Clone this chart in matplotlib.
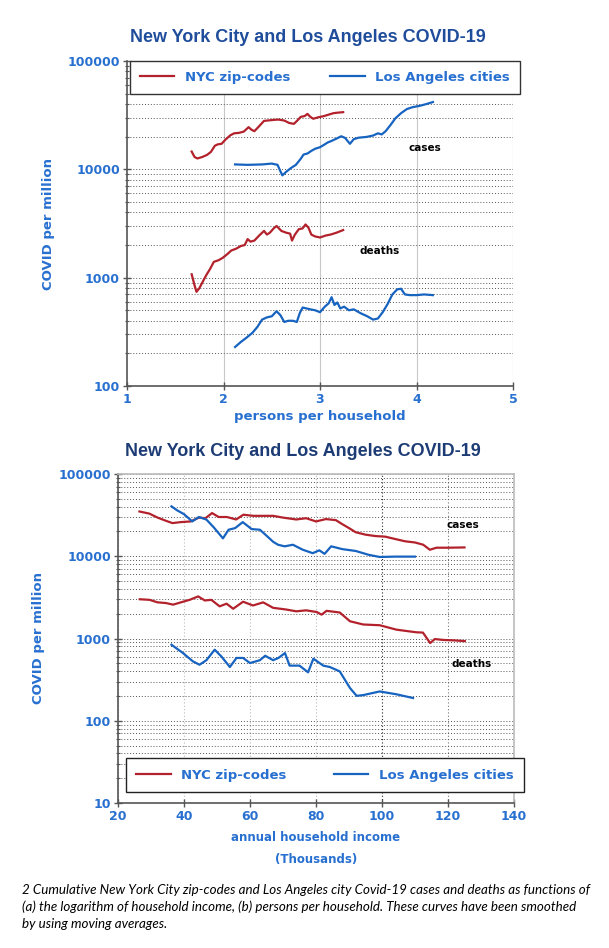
import numpy as np
import matplotlib
matplotlib.use("Agg")
import matplotlib.pyplot as plt
from matplotlib.ticker import LogLocator, NullFormatter


# (a) persons per household
pph_nyc_cases_x = [1.67, 1.70, 1.73, 1.78, 1.83, 1.87, 1.91, 1.94, 1.98, 2.02, 2.07, 2.11, 2.16, 2.21, 2.26, 2.29, 2.32, 2.36, 2.42,
                   2.47, 2.52, 2.57, 2.63, 2.68, 2.73, 2.77, 2.80, 2.84, 2.87, 2.90, 2.93, 2.98, 3.04, 3.09, 3.14, 3.19, 3.24]
pph_nyc_cases_y = [14600, 13000, 12600, 13000, 13600, 14500, 16500, 17000, 17200, 18800, 20600, 21500, 21700, 22300, 24500, 23200,
                   22500, 24500, 28000, 28300, 28600, 28800, 28200, 26800, 26300, 28500, 30500, 31000, 32500, 30500, 29300, 30200,
                   31000, 32000, 33000, 33400, 33700]

pph_la_cases_x = [2.12, 2.25, 2.40, 2.50, 2.56, 2.59, 2.61, 2.65, 2.70, 2.75, 2.80, 2.83, 2.87, 2.91, 2.95, 3.00, 3.04, 3.08, 3.12,
                  3.17, 3.22, 3.26, 3.31, 3.35, 3.40, 3.48, 3.55, 3.60, 3.64, 3.68, 3.73, 3.78, 3.84, 3.90, 3.96, 4.03, 4.10, 4.17]
pph_la_cases_y = [11100, 11000, 11100, 11300, 11000, 9600, 8800, 9500, 10300, 11000, 12500, 13700, 14000, 14800, 15500, 16000,
                  16800, 17700, 18300, 19200, 20200, 19500, 17200, 19000, 19600, 19900, 20500, 21500, 21000, 22500, 25600, 29500,
                  33000, 36000, 37500, 38500, 40000, 41800]

pph_nyc_deaths_x = [1.67, 1.70, 1.72, 1.75, 1.78, 1.82, 1.86, 1.90, 1.95, 1.99, 2.04, 2.08, 2.13, 2.18, 2.22, 2.25, 2.28, 2.32,
                    2.37, 2.42, 2.45, 2.48, 2.52, 2.55, 2.60, 2.65, 2.69, 2.71, 2.74, 2.78, 2.82, 2.85, 2.88, 2.91, 2.95, 3.00,
                    3.06, 3.11, 3.17, 3.24]
pph_nyc_deaths_y = [1075, 850, 740, 800, 900, 1050, 1200, 1400, 1450, 1520, 1650, 1780, 1850, 1960, 2000, 2270, 2150, 2200, 2450,
                    2700, 2500, 2600, 2850, 3000, 2700, 2600, 2550, 2200, 2500, 2800, 2850, 3100, 2900, 2500, 2400, 2350, 2450,
                    2500, 2600, 2750]

pph_la_deaths_x = [2.12, 2.18, 2.24, 2.30, 2.35, 2.40, 2.45, 2.50, 2.55, 2.59, 2.63, 2.67, 2.72, 2.76, 2.79, 2.82, 2.86, 2.90,
                   2.95, 3.00, 3.05, 3.09, 3.12, 3.15, 3.18, 3.21, 3.25, 3.30, 3.35, 3.42, 3.49, 3.55, 3.60, 3.65, 3.70, 3.75,
                   3.80, 3.84, 3.88, 3.93, 4.00, 4.08, 4.17]
pph_la_deaths_y = [229, 255, 280, 310, 350, 410, 430, 440, 490, 450, 390, 400, 400, 390, 470, 530, 520, 510, 500, 480, 540, 580,
                   660, 560, 590, 520, 540, 500, 510, 470, 440, 410, 420, 480, 570, 700, 780, 790, 700, 690, 690, 700, 690]

# (b) annual household income (thousands)
inc_nyc_cases_x = [26.5, 29.5, 32, 34.5, 36.5, 39, 42, 44.5, 46.5, 48.5, 50.5, 53, 55.8, 58, 61, 64, 67, 70, 74, 77, 80, 83, 86,
                   88, 90, 92, 95, 98, 101, 104, 107, 110, 112.5, 114.5, 116.5, 120, 125]
inc_nyc_cases_y = [35000, 33000, 29500, 27000, 25300, 26000, 26500, 29500, 29000, 33500, 30000, 30000, 28000, 32000, 31000, 31000,
                   31000, 29500, 28000, 29000, 26500, 28300, 27500, 24500, 22000, 19600, 18300, 17600, 17300, 16200, 15200, 14700,
                   13800, 12000, 12700, 12700, 12800]

inc_la_cases_x = [36.2, 38, 40, 42.5, 44.5, 46.8, 49, 51.8, 53.5, 55.5, 57.8, 60.5, 63, 65, 67, 68.5, 70.5, 73, 76, 79, 81, 82.6,
                  84.6, 88, 92, 96, 99.3, 104, 110]
inc_la_cases_y = [40400, 36000, 32500, 26500, 30000, 27900, 22500, 16500, 21000, 22000, 26000, 21400, 21000, 17800, 15000, 13800,
                  13200, 13800, 12000, 10900, 11800, 10700, 13200, 12200, 11600, 10400, 9800, 9900, 9900]

inc_nyc_deaths_x = [26.6, 29.6, 32, 34.5, 36.7, 39.7, 41.8, 44.3, 46.3, 48.3, 50.8, 52.9, 54.9, 57.9, 60.9, 64, 67, 71, 74, 77,
                    80.2, 81.7, 83.2, 87.2, 90.3, 94.3, 99.3, 104.4, 110.4, 112.4, 114.6, 116, 118.6, 121.7, 125.1]
inc_nyc_deaths_y = [3000, 2950, 2750, 2700, 2580, 2800, 2960, 3250, 2900, 2950, 2460, 2650, 2300, 2800, 2520, 2750, 2360, 2250,
                    2140, 2200, 2100, 1950, 2170, 2070, 1620, 1480, 1450, 1280, 1190, 1180, 880, 985, 960, 950, 930]

inc_la_deaths_x = [36.2, 39.7, 42.7, 44.7, 46.8, 49.3, 51.4, 53.9, 55.9, 57.9, 60, 63, 64.6, 67, 68.6, 70.6, 72, 75, 77.6, 79.2,
                   82.2, 84.2, 87.2, 90.3, 92.3, 94.3, 99.3, 104.3, 109.4]
inc_la_deaths_y = [840, 665, 527, 480, 545, 731, 600, 450, 580, 580, 503, 545, 617, 545, 580, 665, 468, 468, 388, 568, 468, 450,
                   398, 250, 201, 205, 227, 210, 189]

title = "New York City and Los Angeles COVID-19"
caption = ("2 Cumulative New York City zip-codes and Los Angeles city Covid-19 cases and deaths as functions of\n"
           "(a) the logarithm of household income, (b) persons per household. These curves have been smoothed\n"
           "by using moving averages.")

red = "#b3222c"
blue = "#1763c0"
tick_blue = "#2870d0"
font = "DejaVu Sans"
title_font = "Liberation Sans"

fig = plt.figure(figsize=(6.09, 9.48), dpi=100)
fig.patch.set_facecolor("white")


def style_axes(ax, ylo, yhi):
    ax.set_yscale("log")
    ax.set_ylim(ylo, yhi)
    ax.yaxis.set_major_locator(LogLocator(base=10, numticks=10))
    ax.yaxis.set_minor_locator(LogLocator(base=10, subs=np.arange(2, 10), numticks=10))
    ax.yaxis.set_minor_formatter(NullFormatter())
    ax.set_yticklabels([f"{int(v)}" for v in ax.get_yticks()])
    ax.grid(axis="y", which="both", color="#555555", linestyle=(0, (1, 2)), linewidth=0.7)
    ax.tick_params(axis="both", which="major", direction="inout", length=6, width=1, colors="#555555",
                   labelcolor=tick_blue, labelsize=9, pad=2)
    ax.tick_params(axis="y", which="minor", direction="inout", length=3, width=0.8, colors="#555555")
    for lab in ax.get_xticklabels() + ax.get_yticklabels():
        lab.set_fontfamily(font)
        lab.set_fontweight("bold")
    for s in ("left", "bottom"):
        ax.spines[s].set_color("#555555")
        ax.spines[s].set_linewidth(1.2)
    ax.set_axisbelow(True)


label_kw = dict(fontweight="bold", family=font, color=tick_blue)
note_kw = dict(fontsize=7.5, fontweight="bold", family=font, ha="center", va="center")
legend_prop = {"family": font, "weight": "bold", "size": 9.5}

# ---- top panel: persons per household
ax1 = fig.add_axes([127 / 609, 1 - 386 / 948, 386 / 609, 325 / 948])
ax1.set_xlim(1, 5)
ax1.set_xticks([1, 2, 3, 4, 5])
style_axes(ax1, 100, 100000)
for x in [2, 3, 4, 5]:
    ax1.axvline(x, color="#c8c8c8", linewidth=0.8, zorder=0)
ax1.spines["top"].set_visible(False)
ax1.spines["right"].set_visible(False)

l1, = ax1.plot(pph_nyc_cases_x, pph_nyc_cases_y, color=red, lw=1.6, label="NYC zip-codes")
ax1.plot(pph_nyc_deaths_x, pph_nyc_deaths_y, color=red, lw=1.6)
l2, = ax1.plot(pph_la_cases_x, pph_la_cases_y, color=blue, lw=1.6, label="Los Angeles cities")
ax1.plot(pph_la_deaths_x, pph_la_deaths_y, color=blue, lw=1.6)
ax1.text(4.09, 15700, "cases", **note_kw)
ax1.text(3.62, 1760, "deaths", **note_kw)

leg1 = ax1.legend(handles=[l1, l2], loc="upper left", bbox_to_anchor=(0.008, 1.0, 1.01, 0.0), mode="expand",
                  ncol=2, frameon=True, fancybox=False, edgecolor="#333333", framealpha=1, handlelength=2.6,
                  borderpad=0.75, borderaxespad=0, prop=legend_prop)
leg1.get_frame().set_linewidth(1.0)
for t in leg1.get_texts():
    t.set_color(tick_blue)

fig.text(308 / 609, 1 - 38 / 948, title, fontsize=13, fontweight="bold", family=title_font, color="#1f4d9c",
         ha="center", va="center")
ax1.set_xlabel("persons per household", fontsize=9.5, labelpad=3, **label_kw)
ax1.set_ylabel("COVID per million", fontsize=9.5, labelpad=9, **label_kw)

# ---- bottom panel: household income
ax2 = fig.add_axes([118 / 609, 1 - 803 / 948, 396 / 609, 329 / 948])
ax2.set_xlim(20, 140)
ax2.set_xticks([20, 40, 60, 80, 100, 120, 140])
style_axes(ax2, 10, 100000)
ax2.grid(axis="x", color="#bbbbbb", linestyle=(0, (1, 2)), linewidth=0.8)
xg = ax2.get_xgridlines()
xg[4].set_color("#222222")
xg[5].set_color("#777777")
for s in ("top", "right"):
    ax2.spines[s].set_color("#bbbbbb")
    ax2.spines[s].set_linewidth(1.2)

l3, = ax2.plot(inc_nyc_cases_x, inc_nyc_cases_y, color=red, lw=1.6, label="NYC zip-codes")
ax2.plot(inc_nyc_deaths_x, inc_nyc_deaths_y, color=red, lw=1.6)
l4, = ax2.plot(inc_la_cases_x, inc_la_cases_y, color=blue, lw=1.6, label="Los Angeles cities")
ax2.plot(inc_la_deaths_x, inc_la_deaths_y, color=blue, lw=1.6)
ax2.text(124.5, 24000, "cases", **note_kw)
ax2.text(127.3, 490, "deaths", **note_kw)

leg2 = ax2.legend(handles=[l3, l4], loc="lower left", bbox_to_anchor=(0.02, 0.033, 1.005, 0.0), mode="expand",
                  ncol=2, frameon=True, fancybox=False, edgecolor="#222222", framealpha=1, handlelength=2.6,
                  borderpad=0.8, borderaxespad=0, prop=legend_prop)
leg2.get_frame().set_linewidth(1.0)
for t in leg2.get_texts():
    t.set_color(tick_blue)

fig.text(303 / 609, 1 - 451 / 948, title, fontsize=13, fontweight="bold", family=title_font, color="#1d3c75",
         ha="center", va="center")
ax2.set_xlabel("annual household income\n(Thousands)", fontsize=8.5, labelpad=6, linespacing=1.85, **label_kw)
ax2.set_ylabel("COVID per million", fontsize=9.5, labelpad=10, **label_kw)

fig.text(22 / 609, 1 - 884 / 948, caption, fontsize=9.6, style="italic", family=["Lato", "DejaVu Sans"],
         ha="left", va="top", linespacing=1.45)

fig.savefig("out.png", dpi=100, facecolor="white")
